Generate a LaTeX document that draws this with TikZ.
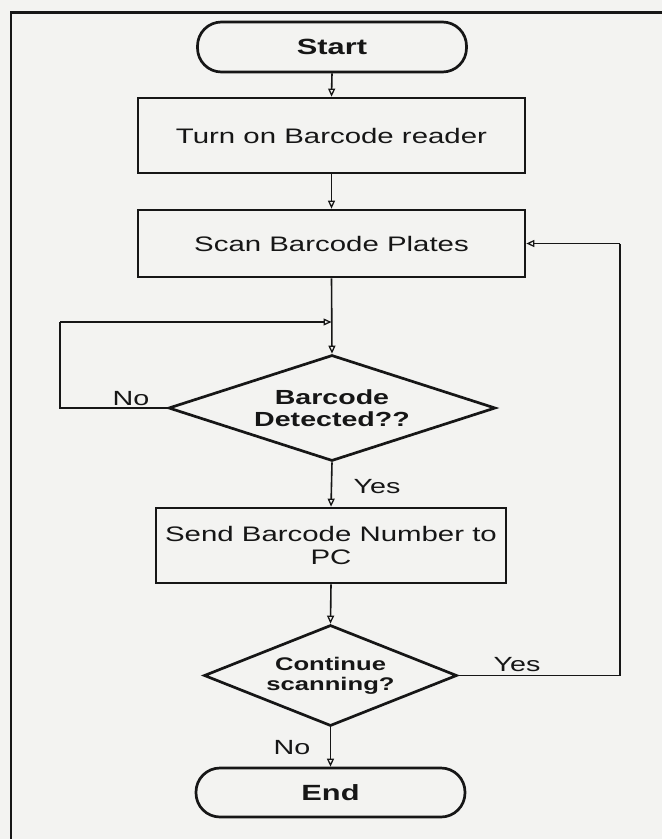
\documentclass[tikz,border=0pt]{standalone}
\usepackage{fontspec}
\setmainfont{Liberation Sans}[FakeStretch=1.4]
\usetikzlibrary{shapes.geometric,arrows.meta}
\definecolor{paper}{RGB}{243,243,241}
\definecolor{ink}{RGB}{22,22,22}
\tikzset{
  shapeline/.style={draw=ink, line width=2.7pt},
  terminal/.style={shapeline, rectangle, rounded corners=24pt, inner sep=0pt, font=\fontsize{22}{24}\selectfont\bfseries, text=ink},
  procbox/.style={shapeline, rectangle, inner sep=0pt, align=center, font=\fontsize{21}{23}\selectfont, text=ink},
  decision/.style={shapeline, diamond, inner sep=0pt, align=center, text=ink},
  conn/.style={draw=ink, line width=1.6pt},
  arr/.style={conn, -{Triangle[open, length=8pt, width=7pt, line width=1.3pt]}},
  lbl/.style={inner sep=0pt, font=\fontsize{20.5}{22}\selectfont, text=ink},
}
\begin{document}
\begin{tikzpicture}[x=1pt, y=-1pt]
\fill[paper] (0,0) rectangle (662,839);
\useasboundingbox (0,0) rectangle (662,839);
\draw[draw=ink, line width=2.6pt] (11,839) -- (11,12.5) -- (662,12.5);

\node[terminal, minimum width=269pt, minimum height=50pt] (start) at (332,47) {Start};
\node[procbox, minimum width=387pt, minimum height=75pt] (b1) at (331.5,135.5) {Turn on Barcode reader};
\node[procbox, minimum width=387pt, minimum height=67pt] (b2) at (331.5,243.5) {Scan Barcode Plates};
\node[decision, minimum width=327pt, minimum height=106pt, shape aspect=3.08,
      font=\fontsize{20.4}{22}\selectfont\bfseries] (d1) at (332,408) {Barcode\\Detected??};
\node[procbox, minimum width=350pt, minimum height=75pt] (b3) at (331,545.5) {Send Barcode Number to\\PC};
\node[decision, minimum width=253pt, minimum height=101pt, shape aspect=2.5,
      font=\fontsize{18.3}{20}\selectfont\bfseries] (d2) at (330.5,675.5) {Continue\\scanning?};
\node[terminal, minimum width=269pt, minimum height=49pt] (end) at (330.5,792.5) {End};

\coordinate (lt) at (60,322);
\coordinate (loopin) at (331.5,322);
\coordinate (rt) at (620,243.5);

\draw[arr] (start.south) -- (b1.north);
\draw[arr] (b1.south) -- (b2.north);
\draw[arr] (b2.south) -- (d1.north);
\draw[conn] (d1.west) -| (lt);
\draw[arr] (lt) -- (loopin);
\draw[arr] (d1.south) -- (b3.north);
\draw[arr] (b3.south) -- (d2.north);
\draw[conn] (d2.east) -| (rt);
\draw[arr] (rt) -- (b2.east);
\draw[arr] (d2.south) -- (end.north);

\node[lbl] (no1) at (131,399) {No};
\node[lbl] (yes1) at (377,487) {Yes};
\node[lbl] (yes2) at (517,665) {Yes};
\node[lbl] (no2) at (292,748) {No};
\end{tikzpicture}
\end{document}
